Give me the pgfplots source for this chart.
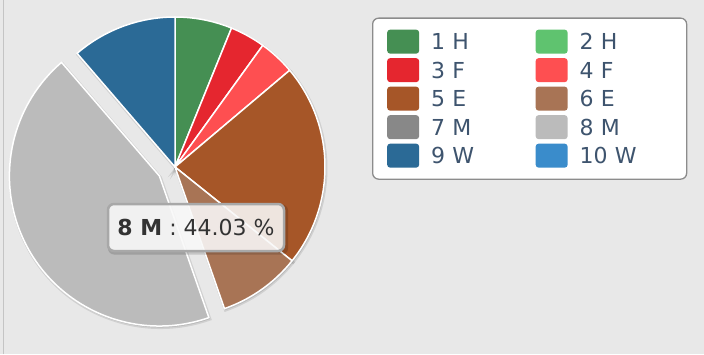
\documentclass[border=0pt]{standalone}
\usepackage{pgfplots}
\pgfplotsset{compat=1.18}
\usepackage{pgfplotstable}
\usepackage{fontspec}
\setmainfont{DejaVu Sans}
\definecolor{bg}{RGB}{232,232,232}
\definecolor{leftline}{RGB}{196,196,196}
\definecolor{slice0}{RGB}{69,143,83}
\definecolor{slice1}{RGB}{95,195,111}
\definecolor{slice2}{RGB}{229,38,47}
\definecolor{slice3}{RGB}{254,79,81}
\definecolor{slice4}{RGB}{166,86,40}
\definecolor{slice5}{RGB}{168,116,85}
\definecolor{slice6}{RGB}{136,136,136}
\definecolor{slice7}{RGB}{187,187,187}
\definecolor{slice8}{RGB}{43,106,150}
\definecolor{slice9}{RGB}{58,140,203}
\definecolor{legtext}{RGB}{62,84,110}
\definecolor{legborder}{RGB}{140,140,140}
\definecolor{tipborder}{RGB}{168,168,168}
\definecolor{tiptext}{RGB}{51,51,51}

% share of each slice, in percent (clockwise from 12 o'clock)
\pgfplotstableread{
id value
0 6.15
1 0
2 3.80
3 3.90
4 21.90
5 8.90
6 0
7 44.03
8 11.32
9 0
}\piedata

\newcommand\piepass[1]{%
  \def\cum{0}%
  \pgfplotsforeachungrouped \i in {0,...,9}{%
    \pgfplotstablegetelem{\i}{value}\of\piedata
    \let\v=\pgfplotsretval
    \pgfmathsetmacro\a{90-\cum*3.6}%
    \pgfmathsetmacro\b{90-(\cum+\v)*3.6}%
    \pgfmathsetmacro\m{(\a+\b)/2}%
    \ifnum\i=7 \def\off{18}\else\def\off{0}\fi
    \pgfmathsetmacro\cx{175+\off*cos(\m)}%
    \pgfmathsetmacro\cy{187+\off*sin(\m)}%
    \edef\col{slice\i}%
    \ifdim\v pt>0pt
      \path[#1] (axis cs:\cx,\cy) -- ++(\a:150pt) arc[start angle=\a, end angle=\b, radius=150pt] -- cycle;
    \fi
    \pgfmathsetmacro\cum{\cum+\v}%
  }%
}

\begin{document}
\begin{tikzpicture}
\begin{axis}[name=ax, x=1pt, y=1pt, xmin=0, xmax=704, ymin=0, ymax=354,
  hide axis, clip=false,
  legend columns=2, legend cell align=left,
  legend image code/.code={\fill[#1, draw=none, rounded corners=3pt] (0pt,-12pt) rectangle (32pt,12pt);},
  legend style={at={(axis cs:372,336.5)}, anchor=north west, draw=legborder, line width=1.3pt,
    rounded corners=6pt, fill=white, inner xsep=14.5pt, inner ysep=11.5pt,
    column sep=12pt, row sep=4.5pt, font=\fontsize{22}{24}\selectfont, text=legtext,
    nodes={inner sep=0pt, text width=92.5pt, text height=16pt, text depth=0pt, anchor=west}},
]
\pgfplotsextra{%
  \fill[bg] (axis cs:0,0) rectangle (axis cs:704,354);
  \draw[leftline, line width=1pt] (axis cs:3.5,0) -- (axis cs:3.5,354);
  \piepass{fill=black, fill opacity=0.10, draw=black, draw opacity=0.10, line width=3pt, shift={(1pt,-1.5pt)}}
  \piepass{fill=\col, draw=white, line width=1.5pt, line join=round}
  \fill[black, opacity=0.15, rounded corners=6pt] (axis cs:108,149.5) rectangle (axis cs:288,99.5);
  \node[draw=tipborder, line width=2.5pt, fill=white, fill opacity=0.86, text opacity=1,
    rounded corners=6pt, minimum width=176pt, minimum height=47pt, text=tiptext,
    font=\fontsize{22}{24}\selectfont] at (axis cs:196,126.5) {\textbf{8 M} : 44.03 \%};
}
\addlegendimage{slice0}\addlegendentry{1 H}
\addlegendimage{slice1}\addlegendentry{2 H}
\addlegendimage{slice2}\addlegendentry{3 F}
\addlegendimage{slice3}\addlegendentry{4 F}
\addlegendimage{slice4}\addlegendentry{5 E}
\addlegendimage{slice5}\addlegendentry{6 E}
\addlegendimage{slice6}\addlegendentry{7 M}
\addlegendimage{slice7}\addlegendentry{8 M}
\addlegendimage{slice8}\addlegendentry{9 W}
\addlegendimage{slice9}\addlegendentry{10 W}
\end{axis}
\pgfresetboundingbox
\path[use as bounding box] (ax.south west) rectangle (ax.north east);
\end{tikzpicture}
\end{document}
